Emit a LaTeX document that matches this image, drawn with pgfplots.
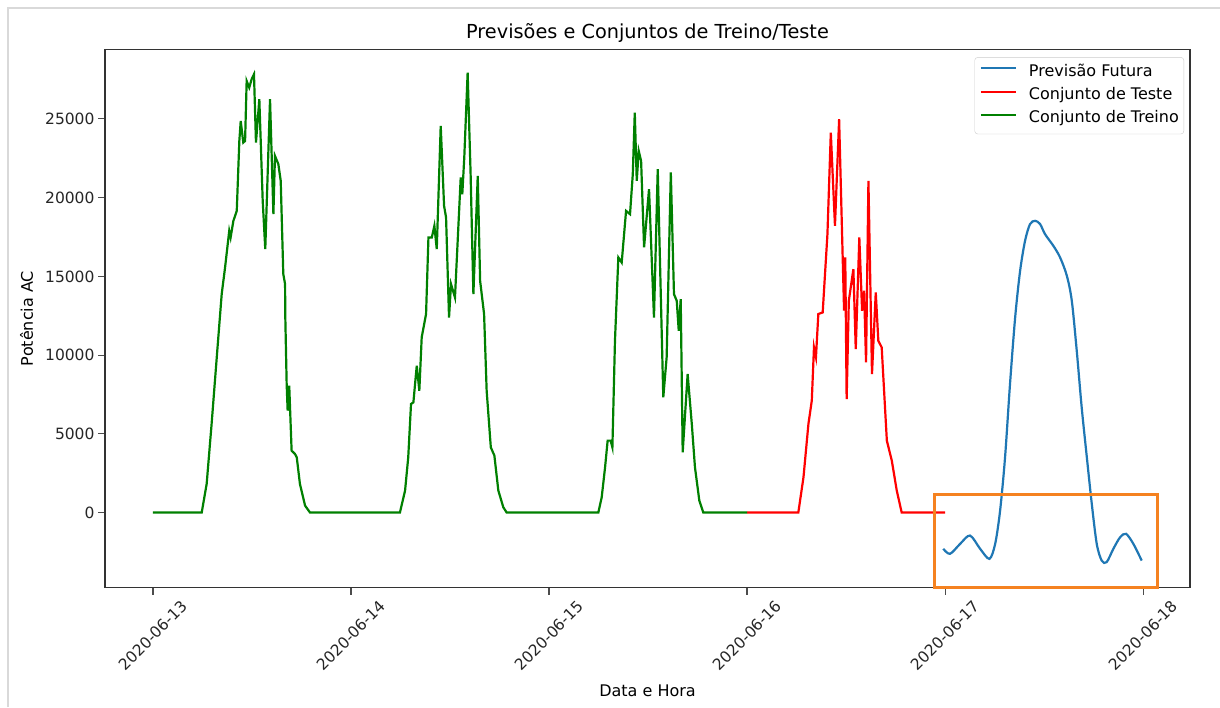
\documentclass[border=0pt]{standalone}
\usepackage{pgfplots}
\pgfplotsset{compat=1.18}
\usepackage{fontspec}
\setmainfont{DejaVu Sans}
\definecolor{mplblue}{HTML}{1F77B4}
\definecolor{mplgreen}{HTML}{008000}
\definecolor{mplred}{HTML}{FF0000}
\definecolor{annot}{HTML}{F58220}

\pgfplotstableread{
x y
0 0
0.246 0
0.271 1820
0.296 5630
0.322 9860
0.347 13880
0.364 15570
0.385 17890
0.392 17470
0.406 18530
0.423 19160
0.436 23600
0.443 24870
0.456 23500
0.465 23600
0.473 27410
0.486 26990
0.498 27520
0.510 27840
0.520 23500
0.537 26250
0.554 19800
0.567 16730
0.591 26250
0.608 18950
0.616 22650
0.633 22130
0.645 21070
0.658 15150
0.667 14510
0.668 12500
0.675 8170
0.680 6470
0.688 8060
0.700 3930
0.717 3720
0.726 3510
0.742 1820
0.768 440
0.793 0
1.247 0
1.273 1396
1.289 3510
1.303 6895
1.315 7000
1.332 9330
1.345 7740
1.357 11130
1.379 12610
1.391 17470
1.408 17470
1.421 18210
1.433 16730
1.453 24560
1.470 19480
1.480 18740
1.495 12390
1.505 14510
1.525 13660
1.554 21280
1.562 20220
1.572 22550
1.589 27940
1.604 21490
1.618 13870
1.640 21380
1.652 14720
1.672 12610
1.685 7740
1.706 4140
1.724 3620
1.744 1396
1.769 340
1.786 0
2.249 0
2.266 970
2.283 2870
2.296 4570
2.311 4570
2.320 4140
2.333 10910
2.350 16200
2.367 15880
2.389 19160
2.409 18950
2.423 21490
2.433 25400
2.443 21070
2.453 22970
2.465 22330
2.480 16840
2.505 20540
2.530 12390
2.549 21810
2.577 7320
2.594 9860
2.615 21600
2.631 13870
2.645 13450
2.655 11550
2.665 13560
2.675 3830
2.700 8800
2.721 5630
2.737 2870
2.759 760
2.779 0
3.0 0
}\train

\pgfplotstableread{
x y
3.0 0
3.259 0
3.285 2240
3.310 5630
3.327 7110
3.338 10490
3.348 9860
3.360 12610
3.382 12710
3.406 17680
3.423 24130
3.444 18210
3.465 24980
3.483 16200
3.490 12820
3.496 16200
3.503 7210
3.514 13450
3.537 15460
3.549 10380
3.567 17470
3.581 12820
3.591 14090
3.601 9540
3.613 21070
3.631 8800
3.650 13980
3.663 10910
3.680 10490
3.706 4570
3.731 3300
3.756 1400
3.781 0
4.0 0
}\test

\pgfplotstableread{
x y
3.991 -2300
4.025 -2620
4.076 -1990
4.126 -1460
4.177 -2300
4.224 -2940
4.253 -1990
4.278 127
4.303 3510
4.328 8160
4.354 12390
4.379 15350
4.404 17260
4.429 18320
4.455 18530
4.480 18320
4.505 17680
4.547 16940
4.581 16200
4.615 15040
4.640 13450
4.665 10280
4.690 6680
4.716 3510
4.741 550
4.766 -1990
4.791 -3050
4.816 -3150
4.850 -2300
4.884 -1570
4.914 -1350
4.951 -1990
4.993 -3050
}\forecast

\begin{document}
\begin{tikzpicture}
\useasboundingbox (0,0) rectangle (1220pt,707pt);
\fill[white] (0,0) rectangle (1220pt,707pt);
\draw[black!15, line width=2pt] (8pt,0) -- (8pt,699pt) -- (1220pt,699pt);
\begin{axis}[
  at={(105pt,119.5pt)}, anchor=south west,
  width=1085pt, height=538pt, scale only axis,
  xmin=-0.2424, xmax=5.237, ymin=-4760, ymax=29410,
  clip=false,
  axis line style={line width=1.1pt, black!80},
  tick pos=left,
  tick align=outside,
  major tick length=7pt,
  tick style={line width=1.1pt, black!70},
  xtick={0,1,2,3,4,5},
  xticklabels={2020-06-13,2020-06-14,2020-06-15,2020-06-16,2020-06-17,2020-06-18},
  ytick={0,5000,10000,15000,20000,25000},
  scaled y ticks=false,
  /pgf/number format/.cd, 1000 sep={}, assume math mode=true,
  /pgfplots/.cd,
  tick label style={font=\fontsize{15.5}{18}\selectfont, text=black!85},
  xticklabel style={rotate=45, anchor=center},
  xticklabel shift=41pt,
  title={Previsões e Conjuntos de Treino/Teste},
  title style={font=\fontsize{19.3}{23}\selectfont, at={(axis description cs:0.5,1.0093)}, anchor=base},
  xlabel={Data e Hora},
  xlabel style={font=\fontsize{16}{19}\selectfont, at={(axis description cs:0.5,-0.2026)}, anchor=base},
  ylabel={Potência AC},
  ylabel style={font=\fontsize{16}{19}\selectfont, at={(axis description cs:-0.0664,0.5)}, anchor=base},
  legend style={at={(axis description cs:0.9945,0.9857)}, anchor=north east,
    draw=black!20, rounded corners=3pt, fill=white,
    font=\fontsize{16}{19}\selectfont, row sep=7.3pt, column sep=12pt,
    inner xsep=5pt, inner ysep=7pt,
    nodes={inner sep=0pt, text height=12pt, text depth=4pt}},
  legend cell align=left,
  legend image code/.code={\draw[#1] (0pt,4pt) -- (35pt,4pt);},
]
\addplot[mplblue, line width=2.2pt, smooth, tension=0.5] table {\forecast};
\addlegendentry{Previsão Futura}
\addplot[mplred, line width=2.2pt] table {\test};
\addlegendentry{Conjunto de Teste}
\addplot[mplgreen, line width=2.2pt] table {\train};
\addlegendentry{Conjunto de Treino}
\draw[annot, line width=3pt] (axis cs:3.949,1140) rectangle (axis cs:5.071,-4760);
\end{axis}
\end{tikzpicture}
\end{document}
